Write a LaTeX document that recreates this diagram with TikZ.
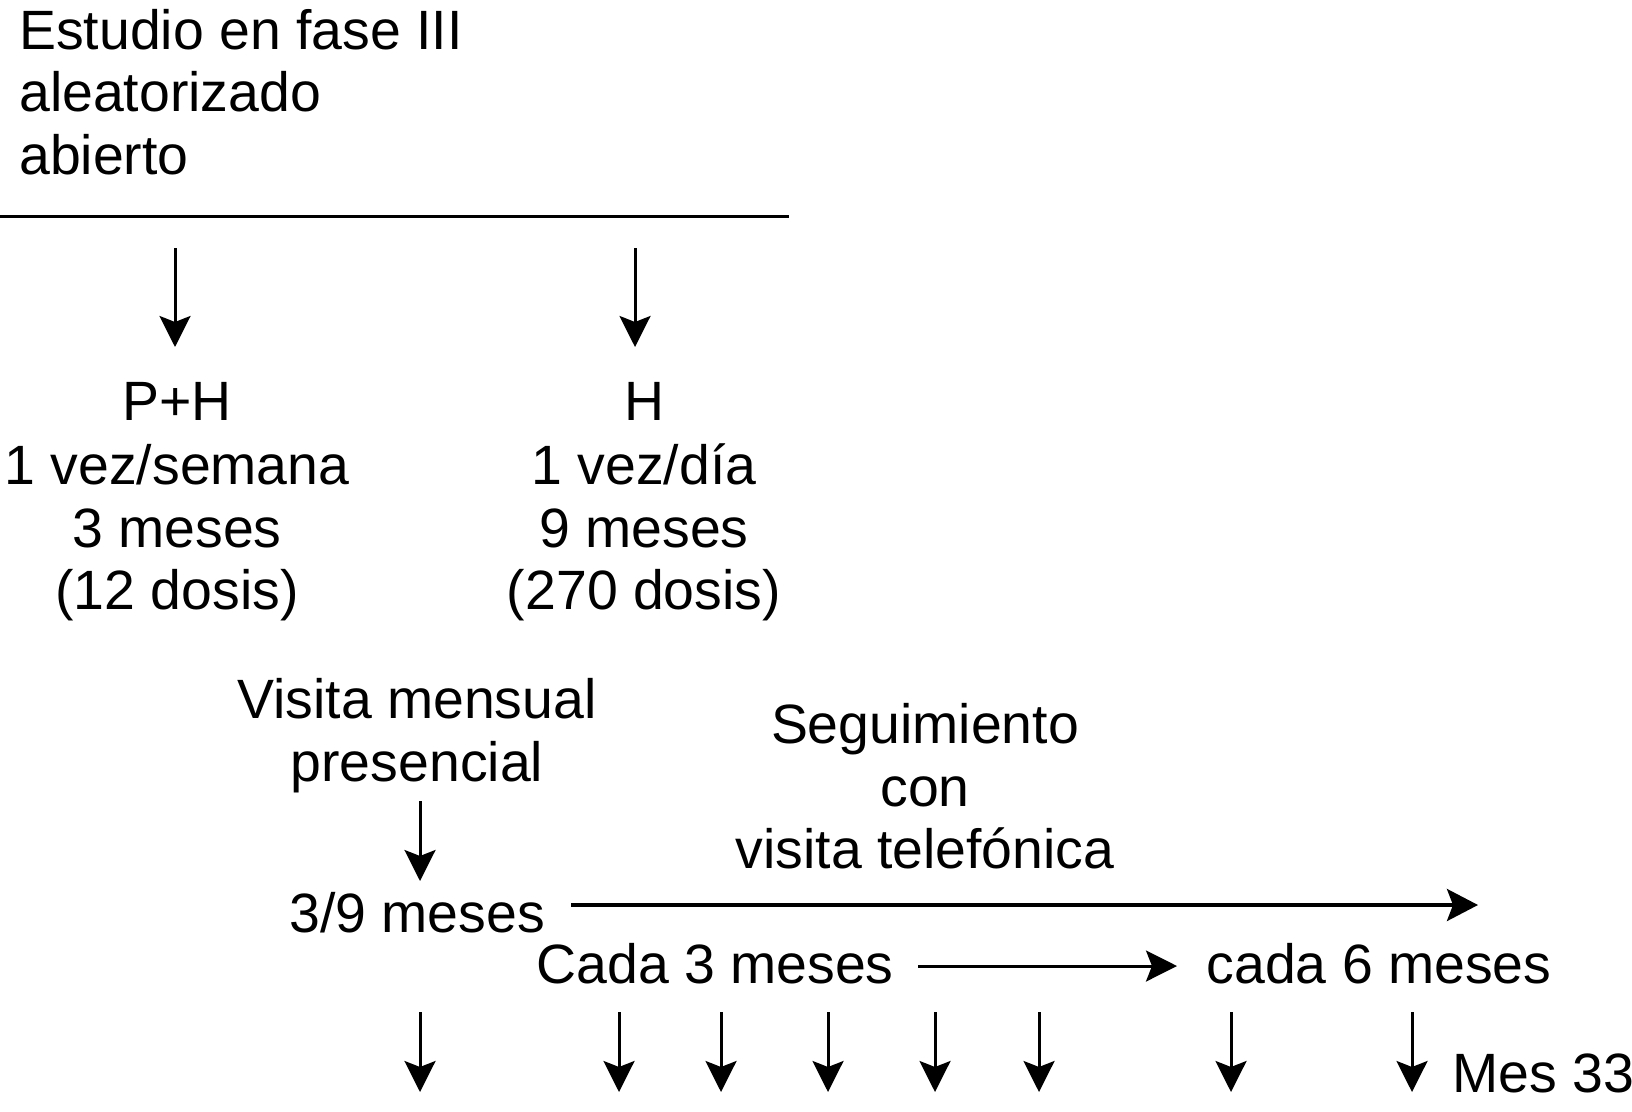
\documentclass[tikz,border=0pt]{standalone}
\usepackage{fontspec}
\setmainfont{Liberation Sans}
\usetikzlibrary{arrows.meta}
\begin{document}
\begin{tikzpicture}[x=1pt,y=-1pt,
  txt/.style={inner sep=0pt,anchor=base,font=\fontsize{55.4}{62}\selectfont},
  txtl/.style={txt,anchor=base west},
  arr/.style={line width=3pt,-{Stealth[length=31pt,width=31pt,inset=6pt]}},
  arrthick/.style={line width=3.6pt,-{Stealth[length=31pt,width=32pt,inset=6pt]}}]
\useasboundingbox (0,0) rectangle (1632,1111);
% title
\node[txtl] (t1) at (19,49) {Estudio en fase III};
\node[txtl] (t2) at (19,111) {aleatorizado};
\node[txtl] (t3) at (19,174) {abierto};
\coordinate (rl) at (0,216.5);
\coordinate (rr) at (789,216.5);
\draw[line width=3.6pt] (rl) -- (rr);
% arms
\coordinate (a1s) at (175,248);
\coordinate (a1e) at (175,347);
\coordinate (a2s) at (635,248);
\coordinate (a2e) at (635,347);
\draw[arr] (a1s) -- (a1e);
\draw[arr] (a2s) -- (a2e);
\node[txt] (ph1) at (177,420) {P+H};
\node[txt] (ph2) at (177,484) {1 vez/semana};
\node[txt] (ph3) at (177,547) {3 meses};
\node[txt] (ph4) at (177,609) {(12 dosis)};
\node[txt] (h1) at (644,420) {H};
\node[txt] (h2) at (644,484) {1 vez/día};
\node[txt] (h3) at (644,547) {9 meses};
\node[txt] (h4) at (644,609) {(270 dosis)};
% follow-up
\node[txt] (v1) at (417,718) {Visita mensual};
\node[txt] (v2) at (417,781) {presencial};
\coordinate (vs) at (420,801);
\coordinate (ve) at (420,881);
\draw[arr] (vs) -- (ve);
\node[txt] (m39) at (417,932) {3/9 meses};
\node[txt] (s1) at (925,743) {Seguimiento};
\node[txt] (s2) at (925,806) {con};
\node[txt] (s3) at (925,868) {visita telefónica};
\coordinate (ls) at (571,905);
\coordinate (le) at (1478,905);
\draw[arrthick] (ls) -- (le);
\node[txt] (c3) at (715,983) {Cada 3 meses};
\node[txt] (c6) at (1379,983) {cada 6 meses};
\coordinate (cs) at (918,966);
\coordinate (ce) at (1177,966);
\draw[arr] (cs) -- (ce);
% bottom ticks
\foreach \x [count=\i] in {420,619,721,828,935,1039,1231,1412}{
  \coordinate (b\i s) at (\x,1012);
  \coordinate (b\i e) at (\x,1092);
  \draw[arr] (b\i s) -- (b\i e);
}
\node[txtl] (mes) at (1452,1092) {Mes 33};
\end{tikzpicture}
\end{document}
